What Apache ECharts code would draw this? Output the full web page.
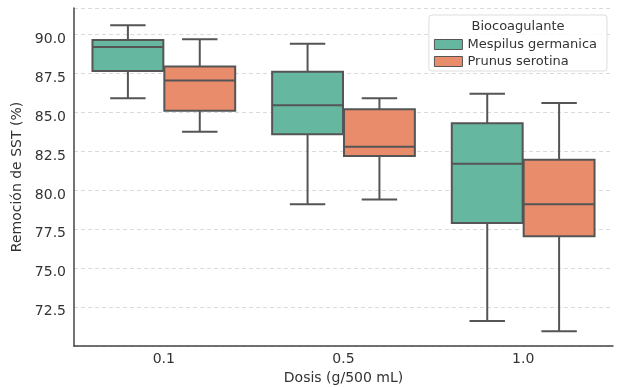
<!DOCTYPE html>
<html><head><meta charset="utf-8">
<script src="https://cdn.jsdelivr.net/npm/echarts@6/dist/echarts.min.js"></script>
<style>html,body{margin:0;padding:0;background:#fff}#c{width:618px;height:387px}</style>
</head><body><div id="c"></div>
<script>
const categories = ['0.1', '0.5', '1.0'];
const seriesNames = ['Mespilus germanica', 'Prunus serotina'];
// [low whisker, Q1, median, Q3, high whisker]
const mespilus = [
  [86.2, 87.95, 89.5, 89.95, 90.9],
  [79.4, 83.9, 85.75, 87.9, 89.7],
  [71.9, 78.2, 82.0, 84.6, 86.5]
];
const prunus = [
  [84.05, 85.4, 87.35, 88.25, 90.0],
  [79.7, 82.5, 83.1, 85.5, 86.2],
  [71.25, 77.35, 79.4, 82.25, 85.9]
];
const yTicks = [72.5, 75.0, 77.5, 80.0, 82.5, 85.0, 87.5, 90.0];
const colors = ['#66b7a0', '#e98c6c'];
const edge = '#555555';

function makeRender(offsetFrac, fill) {
  return function (params, api) {
    const xi = api.value(0);
    const band = api.size([1, 0])[0];
    const cx = api.coord([xi, 0])[0] + offsetFrac * band;
    const yLow = api.coord([xi, api.value(1)])[1];
    const yQ1 = api.coord([xi, api.value(2)])[1];
    const yMed = api.coord([xi, api.value(3)])[1];
    const yQ3 = api.coord([xi, api.value(4)])[1];
    const yHigh = api.coord([xi, api.value(5)])[1];
    const w = band * 0.4 - 1;
    const cap = w / 2;
    const ls = { stroke: edge, lineWidth: 2 };
    return {
      type: 'group',
      children: [
        { type: 'line', shape: { x1: cx, y1: yQ3, x2: cx, y2: yHigh }, style: ls },
        { type: 'line', shape: { x1: cx, y1: yQ1, x2: cx, y2: yLow }, style: ls },
        { type: 'line', shape: { x1: cx - cap / 2, y1: yHigh, x2: cx + cap / 2, y2: yHigh }, style: ls },
        { type: 'line', shape: { x1: cx - cap / 2, y1: yLow, x2: cx + cap / 2, y2: yLow }, style: ls },
        { type: 'rect', shape: { x: cx - w / 2, y: yQ3, width: w, height: yQ1 - yQ3 },
          style: { fill: fill, stroke: edge, lineWidth: 2 } },
        { type: 'line', shape: { x1: cx - w / 2, y1: yMed, x2: cx + w / 2, y2: yMed }, style: ls }
      ]
    };
  };
}

function toData(arr) {
  return arr.map((v, i) => [i].concat(v));
}

const chart = echarts.init(document.getElementById('c'), null, { renderer: 'canvas' });
const font = 'DejaVu Sans';
chart.setOption({
  animation: false,
  backgroundColor: '#fff',
  textStyle: { fontFamily: font },
  grid: { left: 74, right: 5, top: 8, bottom: 41, containLabel: false, outerBoundsMode: 'none' },
  title: {
    text: 'Biocoagulante', left: 513, top: 15, textAlign: 'center',
    textStyle: { fontFamily: font, fontSize: 13, fontWeight: 'normal', color: '#333' }
  },
  legend: {
    orient: 'vertical', right: 11, top: 15,
    padding: [23, 10, 3, 5],
    itemGap: 4, itemWidth: 28, itemHeight: 10,
    borderColor: '#dddddd', borderWidth: 1, borderRadius: 3,
    backgroundColor: 'rgba(255,255,255,0.8)',
    textStyle: { fontFamily: font, fontSize: 13, color: '#333' },
    data: [
      { name: seriesNames[0], icon: 'rect', itemStyle: { color: colors[0], borderColor: edge, borderWidth: 1 } },
      { name: seriesNames[1], icon: 'rect', itemStyle: { color: colors[1], borderColor: edge, borderWidth: 1 } }
    ]
  },
  xAxis: {
    type: 'category', data: categories, boundaryGap: true,
    name: 'Dosis (g/500 mL)', nameLocation: 'middle', nameGap: 21,
    nameTextStyle: { fontFamily: font, fontSize: 14, color: '#333' },
    axisLine: { lineStyle: { color: '#444', width: 1.5 } },
    axisTick: { alignWithLabel: true, length: 4, lineStyle: { color: '#444' } },
    axisLabel: { fontFamily: font, fontSize: 14, color: '#333', margin: 6 },
    splitLine: { show: false }
  },
  yAxis: {
    type: 'value', min: 70.3, max: 92, interval: 2.5,
    name: 'Remoción de SST (%)', nameLocation: 'middle', nameGap: 50,
    nameTextStyle: { fontFamily: font, fontSize: 14, color: '#333' },
    axisLine: { show: true, lineStyle: { color: '#444', width: 1.5 } },
    axisTick: { show: false },
    axisLabel: {
      fontFamily: font, fontSize: 14, color: '#333', margin: 8,
      customValues: yTicks,
      formatter: v => v.toFixed(1)
    },
    splitLine: { show: true, lineStyle: { color: '#dadada', type: [4, 3], width: 1 } },
    customValues: yTicks
  },
  series: [
    {
      type: 'custom', name: seriesNames[0], itemStyle: { color: colors[0] },
      renderItem: makeRender(-0.2, colors[0]),
      encode: { x: 0, y: [1, 2, 3, 4, 5] },
      data: toData(mespilus)
    },
    {
      type: 'custom', name: seriesNames[1], itemStyle: { color: colors[1] },
      renderItem: makeRender(0.2, colors[1]),
      encode: { x: 0, y: [1, 2, 3, 4, 5] },
      data: toData(prunus)
    }
  ]
});
</script>
</body></html>
